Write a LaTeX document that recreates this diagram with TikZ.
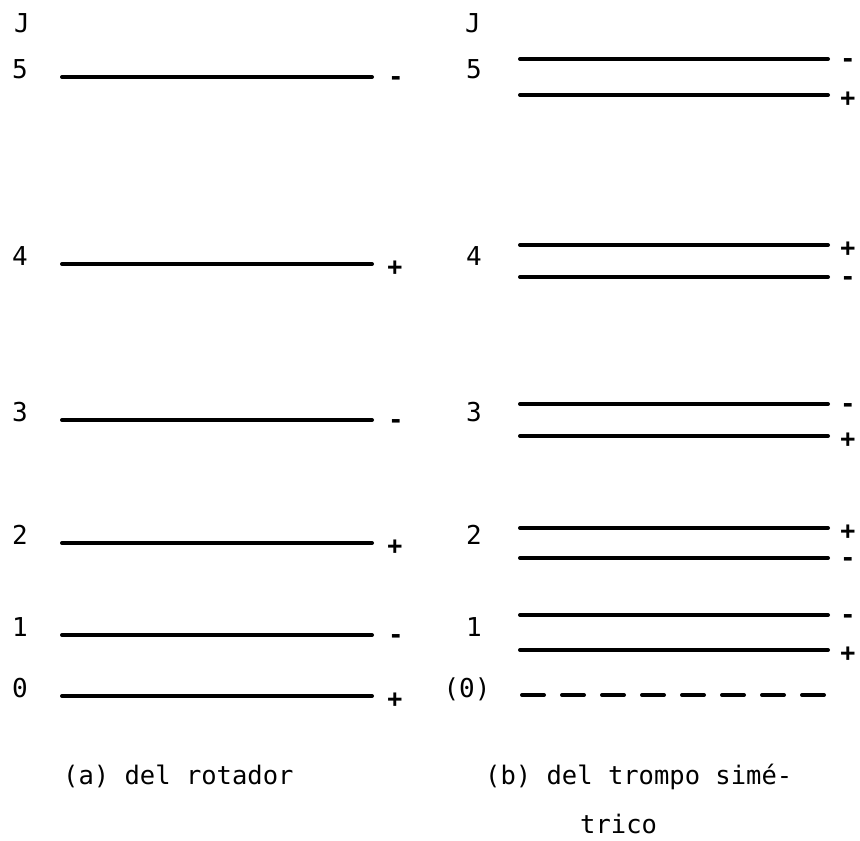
\documentclass[tikz,border=0pt]{standalone}
\usepackage{fontspec}
\newfontfamily\tw{DejaVu Sans Mono}
\tikzset{
  level/.style={line width=4pt, line cap=round},
  dashlevel/.style={line width=4pt, line cap=round, dash pattern=on 22pt off 18pt},
  lab/.style={inner sep=0pt, anchor=base, font=\tw\fontsize{26}{30}\selectfont},
  capt/.style={inner sep=0pt, anchor=base west, font=\tw\fontsize{25.5}{30}\selectfont},
  plussign/.style={inner sep=0pt, anchor=mid, yshift=-9pt, font=\tw\bfseries\fontsize{25}{30}\selectfont},
  minussign/.style={inner sep=0pt, anchor=mid, yshift=-6pt, font=\tw\bfseries\fontsize{25}{30}\selectfont},
}
\begin{document}
\begin{tikzpicture}[x=1pt,y=-1pt]
\useasboundingbox (0,0) rectangle (860,841);
% ---------- (a) rotador ----------
\node[lab] (LJ) at (22,32) {J};
\foreach \y/\n in {77/5,264/4,420/3,543/2,635/1,696/0}{
  \coordinate (La\n) at (62,\y);
  \coordinate (Lb\n) at (372,\y);
  \draw[level] (La\n) -- (Lb\n);
  \node[lab] (Ln\n) at (20,\y+1) {\n};
}
\foreach \y/\n in {77/5,420/3,635/1}{
  \node[minussign] (Ls\n) at (396,\y) {-};
}
\foreach \y/\n in {264/4,543/2,696/0}{
  \node[plussign] (Ls\n) at (395,\y) {+};
}
% ---------- (b) trompo simetrico ----------
\node[lab] (RJ) at (473,32) {J};
\foreach \y/\n in {77/5,264/4,420/3,543/2,635/1}{
  \node[lab] (Rn\n) at (474,\y+1) {\n};
}
\node[lab] (Rn0) at (467,697) {(0)};
\foreach \y/\n in {59/5a,95/5b,245/4a,277/4b,404/3a,436/3b,528/2a,558/2b,615/1a,650/1b}{
  \coordinate (Ra\n) at (520,\y);
  \coordinate (Rb\n) at (828,\y);
  \draw[level] (Ra\n) -- (Rb\n);
}
\foreach \y/\n in {59/5a,277/4b,404/3a,558/2b,615/1a}{
  \node[minussign] (Rs\n) at (848,\y) {-};
}
\foreach \y/\n in {95/5b,245/4a,436/3b,528/2a,650/1b}{
  \node[plussign] (Rs\n) at (848,\y) {+};
}
\coordinate (Ra0) at (522,695);
\coordinate (Rb0) at (830,695);
\draw[dashlevel] (Ra0) -- (Rb0);
% ---------- captions ----------
\node[capt] (capa) at (63,784) {(a) del rotador};
\node[capt] (capb1) at (485,784) {(b) del trompo simé-};
\node[capt] (capb2) at (580,833) {trico};
\end{tikzpicture}
\end{document}
